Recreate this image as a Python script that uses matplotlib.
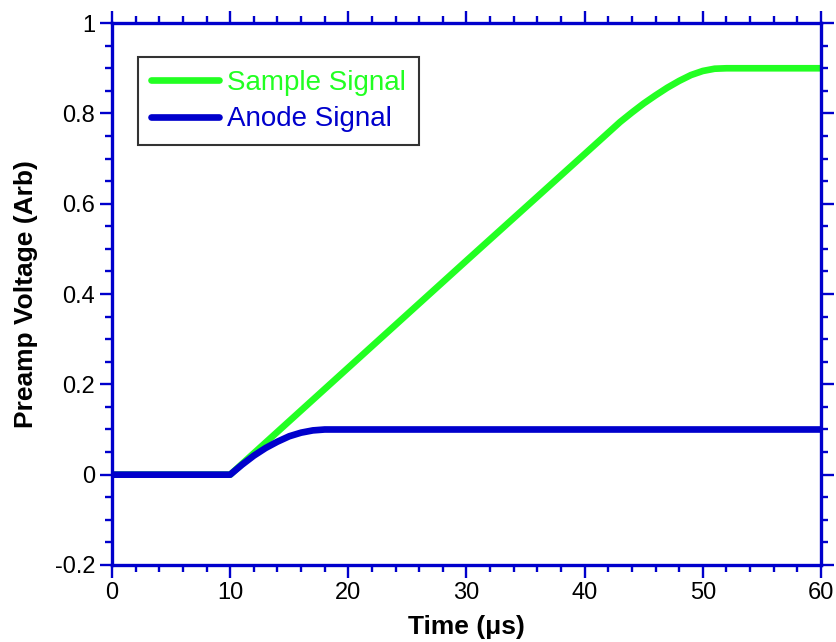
import matplotlib
matplotlib.use('Agg')
import matplotlib.pyplot as plt
from matplotlib.ticker import MultipleLocator

plt.rcParams['font.family'] = ['Liberation Sans', 'DejaVu Sans']

# values
sample_t = [0, 10, 20, 30, 40, 43, 44, 45, 46, 47, 48, 49, 50, 51, 52, 60]
sample_v = [0, 0, 0.237, 0.474, 0.71, 0.781, 0.802, 0.822, 0.84, 0.857, 0.872, 0.885, 0.894, 0.899, 0.9, 0.9]
anode_t = [0, 10, 11, 12, 13, 14, 15, 16, 17, 18, 60]
anode_v = [0, 0, 0.022, 0.042, 0.059, 0.073, 0.085, 0.093, 0.098, 0.1, 0.1]
xticks = [0, 10, 20, 30, 40, 50, 60]
yticks = [-0.2, 0, 0.2, 0.4, 0.6, 0.8, 1.0]
ytick_labels = ['-0.2', '0', '0.2', '0.4', '0.6', '0.8', '1']

green = '#22FF22'
blue = '#0000CC'

fig = plt.figure(figsize=(8.36, 6.42), dpi=100)
ax = fig.add_axes([0.134, 0.120, 0.848, 0.844])

ax.plot(sample_t, sample_v, color=green, lw=4.8, solid_capstyle='round', label='Sample Signal')
ax.plot(anode_t, anode_v, color=blue, lw=4.8, solid_capstyle='round', label='Anode Signal')

ax.set_xlim(0, 60)
ax.set_ylim(-0.2, 1.0)
ax.set_xticks(xticks)
ax.set_yticks(yticks)
ax.set_yticklabels(ytick_labels)
ax.xaxis.set_minor_locator(MultipleLocator(2))
ax.yaxis.set_minor_locator(MultipleLocator(0.05))

for s in ax.spines.values():
    s.set_color(blue)
    s.set_linewidth(2.4)

ax.tick_params(which='both', direction='out', color=blue, top=True, right=True,
               labelsize=17, labelcolor='black')
ax.tick_params(which='major', length=9, width=1.7, pad=3)
ax.tick_params(which='minor', length=5, width=1.7)

ax.set_xlabel('Time (\u03bcs)', fontsize=19, fontweight='bold', labelpad=8)
ax.set_ylabel('Preamp Voltage (Arb)', fontsize=19, fontweight='bold', labelpad=12)

leg = ax.legend(loc='upper left', bbox_to_anchor=(0.037, 0.937), fontsize=20,
                frameon=True, fancybox=False, handlelength=2.45, handletextpad=0.3,
                borderpad=0.45, labelspacing=0.38, borderaxespad=0)
leg.get_frame().set_edgecolor('black')
leg.get_frame().set_linewidth(1.5)
for txt, c in zip(leg.get_texts(), [green, blue]):
    txt.set_color(c)

fig.savefig('out.png', dpi=100)
plt.close(fig)
